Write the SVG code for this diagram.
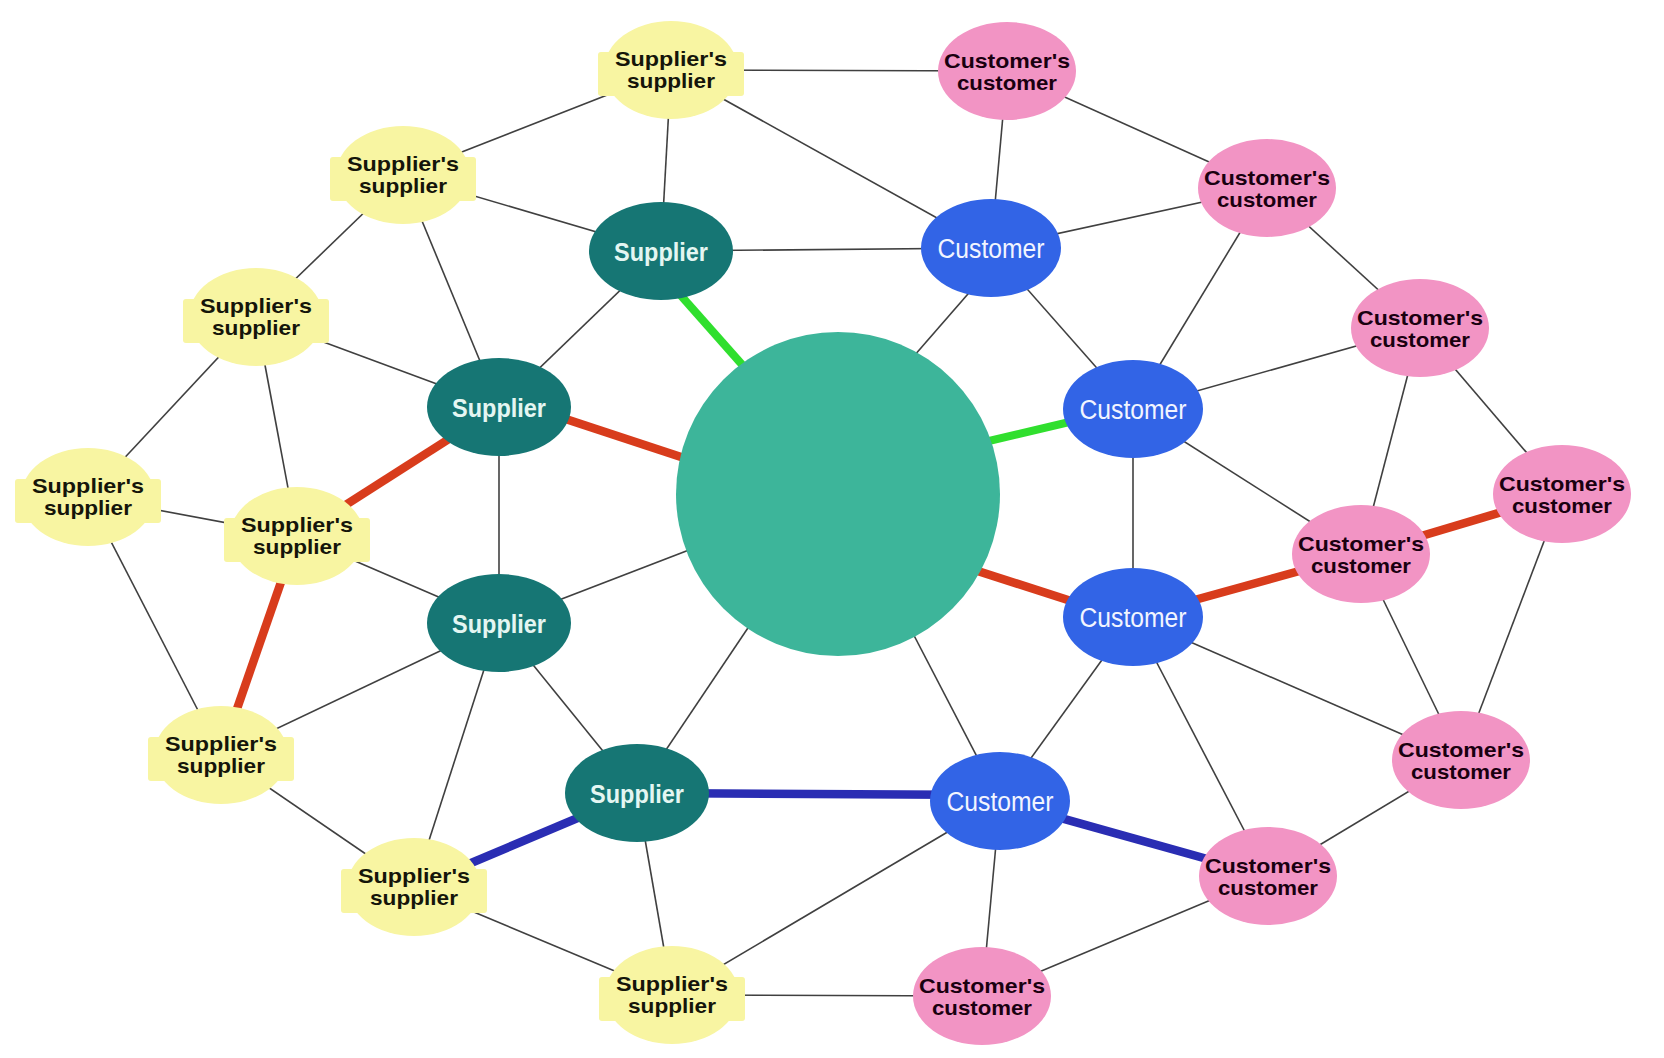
<svg xmlns="http://www.w3.org/2000/svg" xmlns:xlink="http://www.w3.org/1999/xlink" width="1664" height="1058" viewBox="0 0 1664 1058">
<style>
.thin{stroke:#404040;stroke-width:1.6;fill:none}
.green{stroke:#30df2e;stroke-width:8;fill:none}
.red{stroke:#d83c1c;stroke-width:8.5;fill:none}
.blue{stroke:#2a2db3;stroke-width:8.5;fill:none}
.yl{fill:#f8f5a2}
.sp{fill:#167674}
.cu{fill:#3264e6}
.pk{fill:#f294c4}
.hub{fill:#3db59a}
.t{font-family:"Liberation Sans",Arial,sans-serif;text-anchor:middle}
.ty{font-weight:bold;font-size:21px;fill:#15150a}
.ts{font-weight:bold;font-size:26px;fill:#e4f6f2}
.tc{font-size:27px;fill:#f2f5ff}
.tp{font-weight:bold;font-size:21px;fill:#1a0010}
</style>
<defs>
<g id="yshape">
<ellipse cx="0" cy="0" rx="67" ry="49"/>
<rect x="-73" y="-18" width="146" height="44" rx="3"/>
</g>
</defs>
<rect width="1664" height="1058" fill="#ffffff"/>
<g id="connectors">
<line class="thin" x1="671" y1="70" x2="1007" y2="71"/>
<line class="thin" x1="671" y1="70" x2="403" y2="175"/>
<line class="thin" x1="671" y1="70" x2="661" y2="251"/>
<line class="thin" x1="671" y1="70" x2="991" y2="248"/>
<line class="thin" x1="1007" y1="71" x2="991" y2="248"/>
<line class="thin" x1="1007" y1="71" x2="1267" y2="188"/>
<line class="thin" x1="403" y1="175" x2="661" y2="251"/>
<line class="thin" x1="403" y1="175" x2="256" y2="317"/>
<line class="thin" x1="403" y1="175" x2="499" y2="407"/>
<line class="thin" x1="661" y1="251" x2="991" y2="248"/>
<line class="thin" x1="661" y1="251" x2="499" y2="407"/>
<line class="thin" x1="991" y1="248" x2="1267" y2="188"/>
<line class="thin" x1="991" y1="248" x2="1133" y2="409"/>
<line class="thin" x1="1008" y1="248" x2="880" y2="395"/>
<line class="thin" x1="1267" y1="188" x2="1133" y2="409"/>
<line class="thin" x1="1267" y1="188" x2="1420" y2="328"/>
<line class="thin" x1="1133" y1="409" x2="1420" y2="328"/>
<line class="thin" x1="1133" y1="409" x2="1361" y2="554"/>
<line class="thin" x1="1133" y1="409" x2="1133" y2="617"/>
<line class="thin" x1="1420" y1="328" x2="1361" y2="554"/>
<line class="thin" x1="1420" y1="328" x2="1562" y2="494"/>
<line class="thin" x1="256" y1="317" x2="499" y2="407"/>
<line class="thin" x1="256" y1="317" x2="88" y2="497"/>
<line class="thin" x1="256" y1="317" x2="297" y2="536"/>
<line class="thin" x1="88" y1="497" x2="297" y2="536"/>
<line class="thin" x1="88" y1="497" x2="221" y2="755"/>
<line class="thin" x1="499" y1="407" x2="499" y2="623"/>
<line class="thin" x1="297" y1="536" x2="499" y2="623"/>
<line class="thin" x1="499" y1="623" x2="780" y2="515"/>
<line class="thin" x1="499" y1="623" x2="221" y2="755"/>
<line class="thin" x1="499" y1="623" x2="414" y2="887"/>
<line class="thin" x1="499" y1="623" x2="637" y2="793"/>
<line class="thin" x1="221" y1="755" x2="414" y2="887"/>
<line class="thin" x1="637" y1="793" x2="672" y2="995"/>
<line class="thin" x1="637" y1="793" x2="760" y2="610"/>
<line class="thin" x1="672" y1="995" x2="1000" y2="801"/>
<line class="thin" x1="414" y1="887" x2="672" y2="995"/>
<line class="thin" x1="672" y1="995" x2="982" y2="996"/>
<line class="thin" x1="1000" y1="801" x2="880" y2="570"/>
<line class="thin" x1="1133" y1="617" x2="1000" y2="801"/>
<line class="thin" x1="1133" y1="617" x2="1461" y2="760"/>
<line class="thin" x1="1133" y1="617" x2="1268" y2="876"/>
<line class="thin" x1="1000" y1="801" x2="982" y2="996"/>
<line class="thin" x1="982" y1="996" x2="1268" y2="876"/>
<line class="thin" x1="1268" y1="876" x2="1461" y2="760"/>
<line class="thin" x1="1461" y1="760" x2="1361" y2="554"/>
<line class="thin" x1="1461" y1="760" x2="1562" y2="494"/>
<line class="green" x1="645" y1="255" x2="800" y2="430"/>
<line class="green" x1="900" y1="462" x2="1133" y2="407"/>
<line class="red" x1="499" y1="397" x2="760" y2="483"/>
<line class="red" x1="499" y1="407" x2="297" y2="536"/>
<line class="red" x1="297" y1="536" x2="221" y2="755"/>
<line class="red" x1="900" y1="546" x2="1133" y2="621"/>
<line class="red" x1="1133" y1="617" x2="1361" y2="554"/>
<line class="red" x1="1361" y1="554" x2="1562" y2="494"/>
<line class="blue" x1="414" y1="887" x2="637" y2="793"/>
<line class="blue" x1="637" y1="793" x2="1000" y2="795"/>
<line class="blue" x1="1000" y1="801" x2="1268" y2="876"/>
</g>
<g id="hub"><circle class="hub" cx="838" cy="494" r="162"/></g>
<g id="ss1" transform="translate(671,70)"><use href="#yshape" class="yl"/><text class="t ty"><tspan x="0" y="-4" textLength="112" lengthAdjust="spacingAndGlyphs">Supplier's</tspan><tspan x="0" y="18" textLength="88" lengthAdjust="spacingAndGlyphs">supplier</tspan></text></g>
<g id="ss2" transform="translate(403,175)"><use href="#yshape" class="yl"/><text class="t ty"><tspan x="0" y="-4" textLength="112" lengthAdjust="spacingAndGlyphs">Supplier's</tspan><tspan x="0" y="18" textLength="88" lengthAdjust="spacingAndGlyphs">supplier</tspan></text></g>
<g id="ss3" transform="translate(256,317)"><use href="#yshape" class="yl"/><text class="t ty"><tspan x="0" y="-4" textLength="112" lengthAdjust="spacingAndGlyphs">Supplier's</tspan><tspan x="0" y="18" textLength="88" lengthAdjust="spacingAndGlyphs">supplier</tspan></text></g>
<g id="ss4" transform="translate(88,497)"><use href="#yshape" class="yl"/><text class="t ty"><tspan x="0" y="-4" textLength="112" lengthAdjust="spacingAndGlyphs">Supplier's</tspan><tspan x="0" y="18" textLength="88" lengthAdjust="spacingAndGlyphs">supplier</tspan></text></g>
<g id="ss5" transform="translate(297,536)"><use href="#yshape" class="yl"/><text class="t ty"><tspan x="0" y="-4" textLength="112" lengthAdjust="spacingAndGlyphs">Supplier's</tspan><tspan x="0" y="18" textLength="88" lengthAdjust="spacingAndGlyphs">supplier</tspan></text></g>
<g id="ss6" transform="translate(221,755)"><use href="#yshape" class="yl"/><text class="t ty"><tspan x="0" y="-4" textLength="112" lengthAdjust="spacingAndGlyphs">Supplier's</tspan><tspan x="0" y="18" textLength="88" lengthAdjust="spacingAndGlyphs">supplier</tspan></text></g>
<g id="ss7" transform="translate(414,887)"><use href="#yshape" class="yl"/><text class="t ty"><tspan x="0" y="-4" textLength="112" lengthAdjust="spacingAndGlyphs">Supplier's</tspan><tspan x="0" y="18" textLength="88" lengthAdjust="spacingAndGlyphs">supplier</tspan></text></g>
<g id="ss8" transform="translate(672,995)"><use href="#yshape" class="yl"/><text class="t ty"><tspan x="0" y="-4" textLength="112" lengthAdjust="spacingAndGlyphs">Supplier's</tspan><tspan x="0" y="18" textLength="88" lengthAdjust="spacingAndGlyphs">supplier</tspan></text></g>
<g id="s1" transform="translate(661,251)"><ellipse class="sp" rx="72" ry="49"/><text class="t ts" y="10" textLength="94" lengthAdjust="spacingAndGlyphs">Supplier</text></g>
<g id="s2" transform="translate(499,407)"><ellipse class="sp" rx="72" ry="49"/><text class="t ts" y="10" textLength="94" lengthAdjust="spacingAndGlyphs">Supplier</text></g>
<g id="s3" transform="translate(499,623)"><ellipse class="sp" rx="72" ry="49"/><text class="t ts" y="10" textLength="94" lengthAdjust="spacingAndGlyphs">Supplier</text></g>
<g id="s4" transform="translate(637,793)"><ellipse class="sp" rx="72" ry="49"/><text class="t ts" y="10" textLength="94" lengthAdjust="spacingAndGlyphs">Supplier</text></g>
<g id="c1" transform="translate(991,248)"><ellipse class="cu" rx="70" ry="49"/><text class="t tc" y="10" textLength="107" lengthAdjust="spacingAndGlyphs">Customer</text></g>
<g id="c2" transform="translate(1133,409)"><ellipse class="cu" rx="70" ry="49"/><text class="t tc" y="10" textLength="107" lengthAdjust="spacingAndGlyphs">Customer</text></g>
<g id="c3" transform="translate(1133,617)"><ellipse class="cu" rx="70" ry="49"/><text class="t tc" y="10" textLength="107" lengthAdjust="spacingAndGlyphs">Customer</text></g>
<g id="c4" transform="translate(1000,801)"><ellipse class="cu" rx="70" ry="49"/><text class="t tc" y="10" textLength="107" lengthAdjust="spacingAndGlyphs">Customer</text></g>
<g id="cc1" transform="translate(1007,71)"><ellipse class="pk" rx="69" ry="49"/><text class="t tp"><tspan x="0" y="-3" textLength="126" lengthAdjust="spacingAndGlyphs">Customer's</tspan><tspan x="0" y="19" textLength="100" lengthAdjust="spacingAndGlyphs">customer</tspan></text></g>
<g id="cc2" transform="translate(1267,188)"><ellipse class="pk" rx="69" ry="49"/><text class="t tp"><tspan x="0" y="-3" textLength="126" lengthAdjust="spacingAndGlyphs">Customer's</tspan><tspan x="0" y="19" textLength="100" lengthAdjust="spacingAndGlyphs">customer</tspan></text></g>
<g id="cc3" transform="translate(1420,328)"><ellipse class="pk" rx="69" ry="49"/><text class="t tp"><tspan x="0" y="-3" textLength="126" lengthAdjust="spacingAndGlyphs">Customer's</tspan><tspan x="0" y="19" textLength="100" lengthAdjust="spacingAndGlyphs">customer</tspan></text></g>
<g id="cc4" transform="translate(1562,494)"><ellipse class="pk" rx="69" ry="49"/><text class="t tp"><tspan x="0" y="-3" textLength="126" lengthAdjust="spacingAndGlyphs">Customer's</tspan><tspan x="0" y="19" textLength="100" lengthAdjust="spacingAndGlyphs">customer</tspan></text></g>
<g id="cc5" transform="translate(1361,554)"><ellipse class="pk" rx="69" ry="49"/><text class="t tp"><tspan x="0" y="-3" textLength="126" lengthAdjust="spacingAndGlyphs">Customer's</tspan><tspan x="0" y="19" textLength="100" lengthAdjust="spacingAndGlyphs">customer</tspan></text></g>
<g id="cc6" transform="translate(1461,760)"><ellipse class="pk" rx="69" ry="49"/><text class="t tp"><tspan x="0" y="-3" textLength="126" lengthAdjust="spacingAndGlyphs">Customer's</tspan><tspan x="0" y="19" textLength="100" lengthAdjust="spacingAndGlyphs">customer</tspan></text></g>
<g id="cc7" transform="translate(1268,876)"><ellipse class="pk" rx="69" ry="49"/><text class="t tp"><tspan x="0" y="-3" textLength="126" lengthAdjust="spacingAndGlyphs">Customer's</tspan><tspan x="0" y="19" textLength="100" lengthAdjust="spacingAndGlyphs">customer</tspan></text></g>
<g id="cc8" transform="translate(982,996)"><ellipse class="pk" rx="69" ry="49"/><text class="t tp"><tspan x="0" y="-3" textLength="126" lengthAdjust="spacingAndGlyphs">Customer's</tspan><tspan x="0" y="19" textLength="100" lengthAdjust="spacingAndGlyphs">customer</tspan></text></g>
</svg>
